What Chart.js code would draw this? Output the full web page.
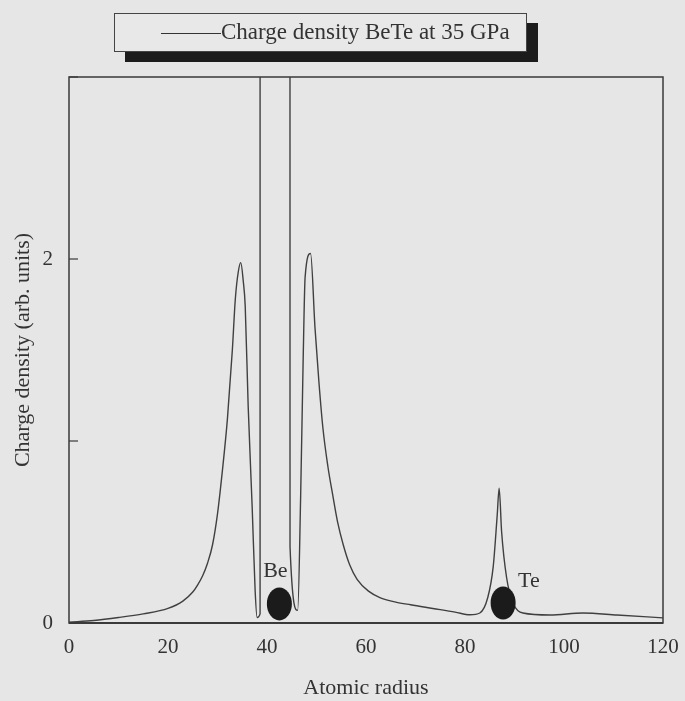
<!DOCTYPE html>
<html>
<head>
<meta charset="utf-8">
<script src="https://cdn.jsdelivr.net/npm/chart.js@4.4.1/dist/chart.umd.min.js"></script>
<style>
  html, body { margin: 0; padding: 0; background: #e6e6e6; }
  #wrap { position: relative; width: 685px; height: 701px; }
  canvas { display: block; }
  #key {
    position: absolute; left: 114px; top: 13px; width: 411px; height: 37px;
    border: 1.5px solid #444; background: #e8e8e8;
    box-shadow: 11px 10px 0 #1c1c1c;
    font-family: "Liberation Serif", "Times New Roman", serif; font-size: 23px; color: #333;
  }
  #key .swatch { position: absolute; left: 46px; top: 19px; width: 60px; border-top: 1.5px solid #333; }
  #key .txt { position: absolute; left: 106px; top: 5px; white-space: nowrap; }
</style>
</head>
<body>
<div id="wrap">
  <canvas id="c" width="685" height="701"></canvas>
  <div id="key"><span class="swatch"></span><span class="txt" id="keyText"></span></div>
</div>
<script>
// Radial charge density profile through the Be and Te sites
const seriesName = 'Charge density BeTe at 35 GPa';
const radius = [0, 5, 10, 15, 20, 23, 25, 26, 27, 28, 29, 30, 31, 32, 33, 33.6, 34.2, 34.7, 35.2, 35.6, 36.2, 37.0, 37.6, 38.0, 38.6,
  38.65, 44.55,
  44.65, 46.2, 46.8, 47.3, 47.7, 48.8, 49.7, 50.5, 51.3, 52.3, 53.3, 54.3, 55.4, 56.7, 58.2, 60.5, 62.8, 66.0, 69.0, 73.5, 78.0, 81.0, 83.0,
  84.6, 85.7, 86.5, 86.9, 87.4, 88.4, 89.7, 91.7, 97.2, 103.8, 110.7, 120];
const density = [0.005, 0.014, 0.03, 0.05, 0.08, 0.12, 0.17, 0.21, 0.26, 0.33, 0.43, 0.60, 0.84, 1.12, 1.50, 1.78, 1.93, 1.98, 1.88, 1.74, 1.19, 0.64, 0.18, 0.03, 0.05,
  40, 40,
  0.42, 0.07, 0.70, 1.44, 1.90, 2.03, 1.62, 1.32, 1.07, 0.86, 0.70, 0.55, 0.43, 0.32, 0.24, 0.175, 0.14, 0.115, 0.10, 0.08, 0.06, 0.045, 0.055,
  0.14, 0.31, 0.59, 0.74, 0.50, 0.25, 0.11, 0.055, 0.044, 0.055, 0.044, 0.028];

// Atom sites marked on the profile
const atomNames = ['Be', 'Te'];
const atomRadius = [42.5, 87.7];
const atomLevel = [0.105, 0.11];

const xTicks = [0, 20, 40, 60, 80, 100, 120];
const yLabelled = [0, 2];

document.getElementById('keyText').textContent = seriesName;

const serif = '"Liberation Serif", "Times New Roman", serif';
const ink = '#333';

const framePlugin = {
  id: 'frame',
  afterDatasetsDraw(chart) {
    const { ctx, chartArea: a, scales } = chart;
    ctx.save();
    // atom markers
    atomNames.forEach((name, i) => {
      const px = scales.x.getPixelForValue(atomRadius[i]);
      const py = scales.y.getPixelForValue(atomLevel[i]);
      ctx.fillStyle = '#1b1b1b';
      ctx.beginPath();
      ctx.ellipse(px, py, 12.5, 16.5, 0, 0, Math.PI * 2);
      ctx.fill();
      ctx.fillStyle = ink;
      ctx.font = '22px ' + serif;
      ctx.textBaseline = 'alphabetic';
      if (i === 0) {
        ctx.textAlign = 'center';
        ctx.fillText(name, px - 4, py - 27);
      } else {
        ctx.textAlign = 'left';
        ctx.fillText(name, px + 15, py - 16);
      }
    });
    // plot frame
    ctx.strokeStyle = '#3a3a3a';
    ctx.lineWidth = 1.5;
    ctx.strokeRect(a.left, a.top, a.right - a.left, a.bottom - a.top);
    ctx.lineWidth = 2;
    ctx.beginPath();
    ctx.moveTo(a.left, a.bottom);
    ctx.lineTo(a.right, a.bottom);
    ctx.stroke();
    // inward tick marks on the density axis
    ctx.lineWidth = 1.2;
    scales.y.ticks.forEach(t => {
      const py = scales.y.getPixelForValue(t.value);
      ctx.beginPath();
      ctx.moveTo(a.left, py);
      ctx.lineTo(a.left + 9, py);
      ctx.stroke();
    });
    ctx.restore();
  }
};

new Chart(document.getElementById('c'), {
  type: 'line',
  data: {
    labels: radius,
    datasets: [{
      label: seriesName,
      data: radius.map((r, i) => ({ x: r, y: density[i] })),
      borderColor: '#404040',
      borderWidth: 1.4,
      pointRadius: 0,
      cubicInterpolationMode: 'monotone',
      fill: false
    }]
  },
  options: {
    responsive: false,
    animation: false,
    devicePixelRatio: 1,
    layout: { padding: { top: 77, right: 22, left: 0, bottom: 0 } },
    plugins: { legend: { display: false }, tooltip: { enabled: false }, title: { display: false } },
    scales: {
      x: {
        type: 'linear', min: 0, max: 120,
        afterBuildTicks: s => { s.ticks = xTicks.map(v => ({ value: v })); },
        afterFit: s => { s.height = 78; s.paddingLeft = 0; s.paddingRight = 0; },
        grid: { display: false, drawTicks: false },
        border: { display: false },
        ticks: { color: ink, font: { family: serif, size: 21 }, padding: 12, maxRotation: 0 },
        title: { display: true, text: 'Atomic radius', color: ink, font: { family: serif, size: 22 }, padding: { top: 0, bottom: 0 } }
      },
      y: {
        min: 0, max: 3,
        afterFit: s => { s.width = 69; s.paddingTop = 0; s.paddingBottom = 0; },
        grid: { display: false, drawTicks: false },
        border: { display: false },
        ticks: {
          stepSize: 1, color: ink, font: { family: serif, size: 21 }, padding: 16,
          callback: v => (yLabelled.includes(v) ? String(v) : '')
        },
        title: { display: true, text: 'Charge density (arb. units)', color: ink, font: { family: serif, size: 22 }, padding: { top: 10, bottom: 0 } }
      }
    }
  },
  plugins: [framePlugin]
});
</script>
</body>
</html>
